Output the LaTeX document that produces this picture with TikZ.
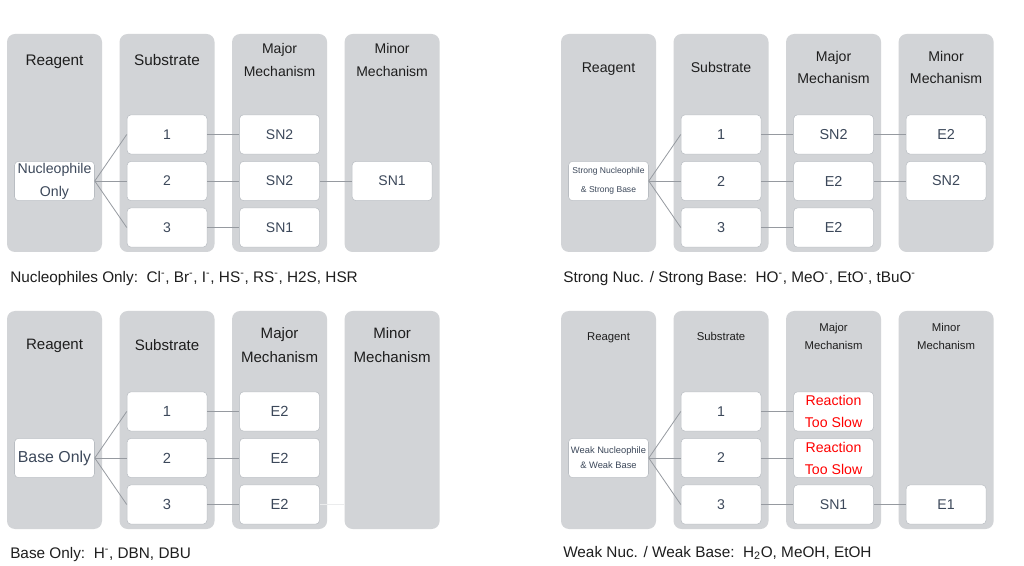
\documentclass[tikz,border=0pt]{standalone}
\usepackage{fontspec}
\setmainfont{Liberation Sans}
\usetikzlibrary{positioning}
\definecolor{lanegray}{RGB}{210,212,215}
\definecolor{cellline}{RGB}{185,189,194}
\definecolor{celltext}{RGB}{60,72,90}
\definecolor{wiregray}{RGB}{150,154,160}
\definecolor{hdrtext}{RGB}{30,30,30}
\newcommand{\fs}[2]{\fontsize{#1}{#2}\selectfont}

\begin{document}
\begin{tikzpicture}[x=0.75pt,y=-0.75pt,
    lane/.style={fill=lanegray,rounded corners=6pt,minimum width=71.25pt,minimum height=163.5pt,inner sep=0pt},
    cell/.style={draw=cellline,fill=white,rounded corners=3pt,minimum width=60pt,minimum height=29.5pt,inner sep=0pt,align=center,text=celltext,font=\fs{10.5}{17}},
    hdr/.style={align=center,text=hdrtext,inner sep=0pt,text depth=0pt},
    wire/.style={draw=wiregray,line width=0.6pt},
    capt/.style={anchor=base west,inner sep=0pt,text=hdrtext,font=\fs{11.5}{14}}]
  \useasboundingbox[fill=white] (0,0) rectangle (1024,566);

  % top left: nucleophile only
  \node[lane] (aR) at (54.5,143) {}; \node[lane,right=12.75pt of aR] (aS) {}; \node[lane,right=12.75pt of aS] (aM) {}; \node[lane,right=12.75pt of aM] (aN) {};
  \node[hdr,font=\fs{11.5}{17}] (aRh) at ([yshift=-19.5pt]aR.north) {Reagent}; \node[hdr,font=\fs{11.5}{17}] (aSh) at ([yshift=-19.5pt]aS.north) {Substrate};
  \node[hdr,font=\fs{10.5}{17.25}] (aMh) at ([yshift=-19.5pt]aM.north) {Major\\Mechanism}; \node[hdr,font=\fs{10.5}{17.25}] (aNh) at ([yshift=-19.5pt]aN.north) {Minor\\Mechanism};
  \node[cell] (as2) at ([yshift=-28.5pt]aS.center) {2}; \node[cell,above=5pt of as2] (as1) {1}; \node[cell,below=5pt of as2] (as3) {3};
  \node[cell,font=\fs{10.6}{17.25},left=24pt of as2] (ar) {Nucleophile\\Only};
  \node[cell,right=24pt of as1] (am1) {SN2}; \node[cell,right=24pt of as2] (am2) {SN2}; \node[cell,right=24pt of as3] (am3) {SN1};
  \node[cell,right=24pt of am2] (an2) {SN1};
  \draw[wire] (ar.east)--(as1.west); \draw[wire] (ar.east)--(as2.west); \draw[wire] (ar.east)--(as3.west);
  \draw[wire] (as1)--(am1); \draw[wire] (as2)--(am2); \draw[wire] (as3)--(am3); \draw[wire] (am2)--(an2);
  \node[capt] (acap) at (10,282.5) {Nucleophiles Only:\ \ Cl\textsuperscript{-}, Br\textsuperscript{-}, I\textsuperscript{-}, HS\textsuperscript{-}, RS\textsuperscript{-}, H2S, HSR};

  % top right: strong nucleophile and strong base
  \begin{scope}[shift={(554,0)}]
  \node[lane] (bR) at (54.5,143) {}; \node[lane,right=12.75pt of bR] (bS) {}; \node[lane,right=12.75pt of bS] (bM) {}; \node[lane,right=12.75pt of bM] (bN) {};
  \node[hdr,font=\fs{10.6}{16.5}] (bRh) at ([yshift=-25.5pt]bR.north) {Reagent}; \node[hdr,font=\fs{10.6}{16.5}] (bSh) at ([yshift=-25.5pt]bS.north) {Substrate};
  \node[hdr,font=\fs{10.6}{16.5}] (bMh) at ([yshift=-25.5pt]bM.north) {Major\\Mechanism}; \node[hdr,font=\fs{10.6}{16.5}] (bNh) at ([yshift=-25.5pt]bN.north) {Minor\\Mechanism};
  \node[cell,font=\fs{10.8}{17}] (bs2) at ([yshift=-28.5pt]bS.center) {2}; \node[cell,font=\fs{10.8}{17},above=5pt of bs2] (bs1) {1}; \node[cell,font=\fs{10.8}{17},below=5pt of bs2] (bs3) {3};
  \node[cell,font=\fs{6.4}{14.25},left=24pt of bs2] (br) {Strong Nucleophile\\\& Strong Base};
  \node[cell,font=\fs{10.8}{17},right=24pt of bs1] (bm1) {SN2}; \node[cell,font=\fs{10.8}{17},right=24pt of bs2] (bm2) {E2}; \node[cell,font=\fs{10.8}{17},right=24pt of bs3] (bm3) {E2};
  \node[cell,font=\fs{10.8}{17},right=24pt of bm1] (bn1) {E2}; \node[cell,font=\fs{10.8}{17},right=24pt of bm2] (bn2) {SN2};
  \draw[wire] (br.east)--(bs1.west); \draw[wire] (br.east)--(bs2.west); \draw[wire] (br.east)--(bs3.west);
  \draw[wire] (bs1)--(bm1); \draw[wire] (bs2)--(bm2); \draw[wire] (bs3)--(bm3); \draw[wire] (bm1)--(bn1); \draw[wire] (bm2)--(bn2);
  \node[capt] (bcap) at (9,282.5) {Strong Nuc. / Strong Base:\ \ HO\textsuperscript{-}, MeO\textsuperscript{-}, EtO\textsuperscript{-}, tBuO\textsuperscript{-}};
  \end{scope}

  % bottom left: base only
  \begin{scope}[shift={(0,277)}]
  \node[lane] (cR) at (54.5,143) {}; \node[lane,right=12.75pt of cR] (cS) {}; \node[lane,right=12.75pt of cS] (cM) {}; \node[lane,right=12.75pt of cM] (cN) {};
  \node[hdr,font=\fs{11.3}{18}] (cRh) at ([yshift=-25.5pt]cR.north) {Reagent}; \node[hdr,font=\fs{11.3}{18}] (cSh) at ([yshift=-25.5pt]cS.north) {Substrate};
  \node[hdr,font=\fs{11.3}{18}] (cMh) at ([yshift=-25.5pt]cM.north) {Major\\Mechanism}; \node[hdr,font=\fs{11.3}{18}] (cNh) at ([yshift=-25.5pt]cN.north) {Minor\\Mechanism};
  \node[cell,font=\fs{11}{17}] (cs2) at ([yshift=-28.5pt]cS.center) {2}; \node[cell,font=\fs{11}{17},above=5pt of cs2] (cs1) {1}; \node[cell,font=\fs{11}{17},below=5pt of cs2] (cs3) {3};
  \node[cell,font=\fs{11.9}{17},left=24pt of cs2] (cr) {Base Only};
  \node[cell,font=\fs{11}{17},right=24pt of cs1] (cm1) {E2}; \node[cell,font=\fs{11}{17},right=24pt of cs2] (cm2) {E2}; \node[cell,font=\fs{11}{17},right=24pt of cs3] (cm3) {E2};
  \coordinate (cfade) at (cN.west |- cm3.east);
  \draw[wire] (cr.east)--(cs1.west); \draw[wire] (cr.east)--(cs2.west); \draw[wire] (cr.east)--(cs3.west);
  \draw[wire] (cs1)--(cm1); \draw[wire] (cs2)--(cm2); \draw[wire] (cs3)--(cm3); \draw[wire,draw=lanegray!45] (cm3.east)--(cfade);
  \node[capt] (ccap) at (10,281.5) {Base Only:\ \ H\textsuperscript{-}, DBN, DBU};
  \end{scope}

  % bottom right: weak nucleophile and weak base
  \begin{scope}[shift={(554,277)}]
  \node[lane] (dR) at (54.5,143) {}; \node[lane,right=12.75pt of dR] (dS) {}; \node[lane,right=12.75pt of dS] (dM) {}; \node[lane,right=12.75pt of dM] (dN) {};
  \node[hdr,font=\fs{8.5}{13.5}] (dRh) at ([yshift=-19.5pt]dR.north) {Reagent}; \node[hdr,font=\fs{8.5}{13.5}] (dSh) at ([yshift=-19.5pt]dS.north) {Substrate};
  \node[hdr,font=\fs{8.5}{13.5}] (dMh) at ([yshift=-19.5pt]dM.north) {Major\\Mechanism}; \node[hdr,font=\fs{8.5}{13.5}] (dNh) at ([yshift=-19.5pt]dN.north) {Minor\\Mechanism};
  \node[cell,font=\fs{10.6}{16.5}] (ds2) at ([yshift=-28.5pt]dS.center) {2}; \node[cell,font=\fs{10.6}{16.5},above=5pt of ds2] (ds1) {1}; \node[cell,font=\fs{10.6}{16.5},below=5pt of ds2] (ds3) {3};
  \node[cell,font=\fs{7}{11.25},left=24pt of ds2] (dr) {Weak Nucleophile\\\& Weak Base};
  \node[cell,font=\fs{10.6}{16.5},text=red,right=24pt of ds1] (dm1) {Reaction\\Too Slow}; \node[cell,font=\fs{10.6}{16.5},text=red,right=24pt of ds2] (dm2) {Reaction\\Too Slow};
  \node[cell,font=\fs{10.6}{16.5},right=24pt of ds3] (dm3) {SN1}; \node[cell,font=\fs{10.6}{16.5},right=24pt of dm3] (dn3) {E1};
  \draw[wire] (dr.east)--(ds1.west); \draw[wire] (dr.east)--(ds2.west); \draw[wire] (dr.east)--(ds3.west);
  \draw[wire] (ds1)--(dm1); \draw[wire] (ds2)--(dm2); \draw[wire] (ds3)--(dm3); \draw[wire] (dm3)--(dn3);
  \node[capt] (dcap) at (9,280.5) {Weak Nuc. / Weak Base:\ \ H\textsubscript{2}O, MeOH, EtOH};
  \end{scope}
\end{tikzpicture}
\end{document}
